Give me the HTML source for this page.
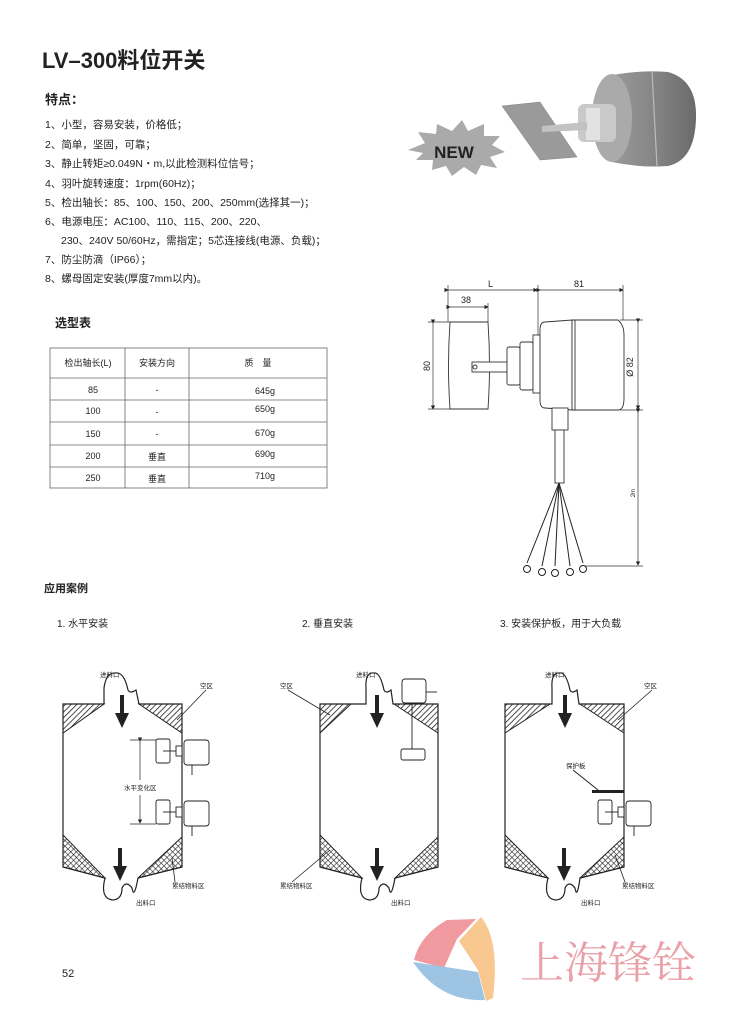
<!DOCTYPE html>
<html><head><meta charset="utf-8"><style>
html,body{margin:0;padding:0;background:#fff;}
svg{display:block;}
text{font-family:"Liberation Sans","Noto Sans CJK SC",sans-serif;fill:#222;}
</style></head><body>
<svg width="734" height="1024" viewBox="0 0 734 1024" xmlns="http://www.w3.org/2000/svg">
<defs>
<pattern id="hatch" width="4" height="4" patternUnits="userSpaceOnUse" patternTransform="rotate(45)">
<rect width="4" height="4" fill="#fff"/><line x1="0" y1="0" x2="0" y2="4" stroke="#222" stroke-width="1.6"/></pattern>
<pattern id="cross" width="4" height="4" patternUnits="userSpaceOnUse" patternTransform="rotate(45)">
<rect width="4" height="4" fill="#fff"/><line x1="0" y1="0" x2="0" y2="4" stroke="#222" stroke-width="1.2"/><line x1="0" y1="0" x2="4" y2="0" stroke="#222" stroke-width="1.2"/></pattern>
<linearGradient id="gcyl" x1="0" x2="1"><stop offset="0" stop-color="#9a9a9a"/><stop offset="0.5" stop-color="#858585"/><stop offset="1" stop-color="#6a6a6a"/></linearGradient>
<marker id="ar" markerWidth="6" markerHeight="6" refX="5" refY="3" orient="auto"><path d="M0,0 L6,3 L0,6 z" fill="#222"/></marker>
</defs>

<!-- Title -->
<text x="42" y="68" font-size="22" font-weight="bold" fill="#111">LV–300料位开关</text>
<text x="45" y="104" font-size="13" font-weight="bold">特点：</text>
<g font-size="10.5" fill="#333">
<text x="45" y="128">1、小型，容易安装，价格低；</text>
<text x="45" y="148">2、简单，坚固，可靠；</text>
<text x="45" y="167">3、静止转矩≥0.049N・m,以此检测料位信号；</text>
<text x="45" y="187">4、羽叶旋转速度：1rpm(60Hz)；</text>
<text x="45" y="206">5、检出轴长：85、100、150、200、250mm(选择其一)；</text>
<text x="45" y="225">6、电源电压：AC100、110、115、200、220、</text>
<text x="61" y="244">230、240V  50/60Hz，需指定；5芯连接线(电源、负载)；</text>
<text x="45" y="263">7、防尘防滴（IP66）；</text>
<text x="45" y="282">8、螺母固定安装(厚度7mm以内)。</text>
</g>

<!-- Table -->
<text x="55" y="327" font-size="12" font-weight="bold">选型表</text>
<g stroke="#666" stroke-width="0.8" fill="none">
<rect x="50" y="348" width="277" height="140"/>
<line x1="50" y1="378" x2="327" y2="378"/><line x1="50" y1="400" x2="327" y2="400"/>
<line x1="50" y1="422" x2="327" y2="422"/><line x1="50" y1="445" x2="327" y2="445"/>
<line x1="50" y1="467" x2="327" y2="467"/>
<line x1="125" y1="348" x2="125" y2="488"/><line x1="189" y1="348" x2="189" y2="488"/>
</g>
<g font-size="9" fill="#333" text-anchor="middle">
<text x="88" y="366">检出轴长(L)</text><text x="157" y="366">安装方向</text><text x="258" y="366">质　量</text>
<text x="93" y="393">85</text><text x="157" y="393">-</text><text x="265" y="394">645g</text>
<text x="93" y="414">100</text><text x="157" y="415">-</text><text x="265" y="412">650g</text>
<text x="93" y="437">150</text><text x="157" y="437">-</text><text x="265" y="436">670g</text>
<text x="93" y="459">200</text><text x="157" y="460">垂直</text><text x="265" y="457">690g</text>
<text x="93" y="481">250</text><text x="157" y="482">垂直</text><text x="265" y="479">710g</text>
</g>

<!-- NEW starburst -->
<polygon points="408,150 425,143 418,132 436,134 437,124 452,131 462,120 468,131 484,124 484,136 500,136 492,145 505,152 490,157 497,168 481,165 476,175 464,167 452,176 446,166 432,170 433,160 416,160 423,153" fill="#aaa"/>
<text x="454" y="158" font-size="17" font-weight="bold" fill="#fff" text-anchor="middle">NEW</text>

<!-- Product photo -->
<path d="M612,75 Q640,70 668,72 Q697,80 696,118 Q695,160 668,166 Q640,168 612,162 Z" fill="url(#gcyl)"/>
<ellipse cx="612" cy="118" rx="20" ry="44" fill="#aaa"/>
<line x1="652" y1="72" x2="657" y2="166" stroke="#bbb" stroke-width="1.2"/>
<rect x="578" y="104" width="38" height="38" rx="6" fill="#c9c9c9"/>
<rect x="586" y="108" width="14" height="32" fill="#e2e2e2"/>
<polygon points="502,106 540,102 577,157 540,160" fill="#9a9a9a" stroke="#808080" stroke-width="0.5"/>
<polygon points="542,126 587,122 587,130 542,132" fill="#c2c2c2"/>

<!-- Dimension drawing -->
<g stroke="#333" stroke-width="0.7" fill="none">
<line x1="448" y1="290" x2="537" y2="290" marker-end="url(#ar)" marker-start="url(#ar)"/>
<line x1="540" y1="290" x2="623" y2="290" marker-end="url(#ar)" marker-start="url(#ar)"/>
<line x1="450" y1="307" x2="488" y2="307" marker-end="url(#ar)" marker-start="url(#ar)"/>
<line x1="448" y1="285" x2="448" y2="322"/><line x1="538" y1="285" x2="538" y2="335"/>
<line x1="488" y1="303" x2="488" y2="322"/><line x1="623" y1="285" x2="623" y2="320"/>
<line x1="433" y1="323" x2="433" y2="409" marker-end="url(#ar)" marker-start="url(#ar)"/>
<line x1="428" y1="322" x2="452" y2="322"/><line x1="428" y1="409" x2="452" y2="409"/>
<line x1="638" y1="322" x2="638" y2="409" marker-end="url(#ar)" marker-start="url(#ar)"/>
<line x1="620" y1="320" x2="643" y2="320"/><line x1="620" y1="410" x2="643" y2="410"/>
<line x1="638" y1="412" x2="638" y2="565" marker-end="url(#ar)" marker-start="url(#ar)"/>
<line x1="585" y1="566" x2="643" y2="566"/>
</g>
<g stroke="#333" stroke-width="0.9" fill="#fff">
<path d="M450,322 L488,322 Q491,366 488,409 L450,409 Q447,366 450,322 Z"/>
<rect x="472" y="362" width="35" height="10"/><circle cx="475" cy="367" r="2"/>
<rect x="507" y="347" width="13" height="38" rx="2"/>
<rect x="520" y="342" width="13" height="48" rx="2"/>
<rect x="533" y="335" width="7" height="58"/>
<path d="M545,322 L572,320 L572,410 L545,408 Q540,408 540,400 L540,330 Q540,322 545,322 Z"/>
<path d="M572,320 L618,320 Q624,325 624,335 L624,398 Q624,410 618,410 L572,410 Z"/>
<line x1="575" y1="320" x2="575" y2="410"/>
<rect x="552" y="408" width="16" height="22"/>
<rect x="555" y="430" width="9" height="53"/>
</g>
<g stroke="#222" stroke-width="1" fill="none">
<line x1="559" y1="483" x2="527" y2="563"/><line x1="559" y1="483" x2="542" y2="566"/>
<line x1="559" y1="483" x2="555" y2="566"/><line x1="559" y1="483" x2="570" y2="566"/>
<line x1="559" y1="483" x2="583" y2="563"/>
<circle cx="527" cy="569" r="3.5"/><circle cx="542" cy="572" r="3.5"/><circle cx="555" cy="573" r="3.5"/><circle cx="570" cy="572" r="3.5"/><circle cx="583" cy="569" r="3.5"/>
</g>
<g font-size="9" fill="#333">
<text x="488" y="287">L</text><text x="574" y="287">81</text><text x="461" y="303">38</text>
<text transform="translate(430,366) rotate(-90)" text-anchor="middle">80</text>
<text transform="translate(633,367) rotate(-90)" text-anchor="middle">Ø 82</text>
<text transform="translate(635,493) rotate(-90)" text-anchor="middle" font-size="6">2m</text>
</g>

<!-- Application -->
<text x="44" y="592" font-size="11" font-weight="bold">应用案例</text>
<g font-size="10" fill="#333">
<text x="57" y="627">1. 水平安装</text><text x="302" y="627">2. 垂直安装</text><text x="500" y="627">3. 安装保护板，用于大负载</text>
</g>

<g>
<g>
<polygon points="63,704 104,704 63,733" fill="url(#hatch)" stroke="#222"/>
<polygon points="139,704 182,704 182,733" fill="url(#hatch)" stroke="#222"/>
<polygon points="63,835 63,867 105,878" fill="url(#cross)" stroke="#222"/>
<polygon points="182,837 182,867 138,878" fill="url(#cross)" stroke="#222"/>
<path d="M104,704 L63,704 L63,867 L105,878 Q100,898 112,900 Q122,900 122,888 Q126,880 132,888 Q134,900 138,878 L182,867 L182,704 L139,704 L136,690 Q130,694 128,690 Q124,672 116,673 Q106,672 104,688 Z" fill="none" stroke="#222" stroke-width="1.2"/>
</g>
<g>
<polygon points="320,704 351,704 320,733" fill="url(#hatch)" stroke="#222"/>
<polygon points="394,704 438,704 438,733" fill="url(#hatch)" stroke="#222"/>
<polygon points="320,835 320,867 362,878" fill="url(#cross)" stroke="#222"/>
<polygon points="438,837 438,867 395,878" fill="url(#cross)" stroke="#222"/>
<path d="M366,704 L320,704 L320,867 L362,878 Q357,898 369,900 Q379,900 379,888 Q383,880 389,888 Q391,900 395,878 L438,867 L438,704 L393,704 L391,690 Q386,694 384,690 Q380,672 374,673 Q365,672 366,688 Z" fill="none" stroke="#222" stroke-width="1.2"/>
</g>
<g>
<polygon points="505,704 550,704 505,733" fill="url(#hatch)" stroke="#222"/>
<polygon points="580,704 624,704 624,733" fill="url(#hatch)" stroke="#222"/>
<polygon points="505,835 505,867 548,878" fill="url(#cross)" stroke="#222"/>
<polygon points="624,837 624,867 580,878" fill="url(#cross)" stroke="#222"/>
<path d="M552,704 L505,704 L505,867 L548,878 Q543,898 555,900 Q565,900 565,888 Q569,880 575,888 Q577,900 580,878 L624,867 L624,704 L579,704 L577,690 Q572,694 570,690 Q566,672 560,673 Q551,672 552,688 Z" fill="none" stroke="#222" stroke-width="1.2"/>
</g>
</g>

<g fill="#222">
<rect x="120" y="695" width="4" height="20"/><polygon points="115,713 129,713 122,728"/>
<rect x="118" y="848" width="4" height="20"/><polygon points="113,866 127,866 120,881"/>
<rect x="375" y="695" width="4" height="20"/><polygon points="370,713 384,713 377,728"/>
<rect x="375" y="848" width="4" height="20"/><polygon points="370,866 384,866 377,881"/>
<rect x="563" y="695" width="4" height="20"/><polygon points="558,713 572,713 565,728"/>
<rect x="562" y="848" width="4" height="20"/><polygon points="557,866 571,866 564,881"/>
</g>

<g stroke="#222" stroke-width="0.9" fill="#fff">
<g>
<rect x="156" y="739" width="14" height="24" rx="2"/><line x1="163" y1="751" x2="176" y2="751"/>
<rect x="176" y="746" width="6" height="10"/>
<rect x="184" y="740" width="25" height="25" rx="3"/>
<line x1="192" y1="765" x2="192" y2="775"/>
</g>
<g transform="translate(0,61)"><rect x="156" y="739" width="14" height="24" rx="2"/><line x1="163" y1="751" x2="176" y2="751"/><rect x="176" y="746" width="6" height="10"/><rect x="184" y="740" width="25" height="25" rx="3"/><line x1="192" y1="765" x2="192" y2="775"/></g>
<g transform="translate(442,61)"><rect x="156" y="739" width="14" height="24" rx="2"/><line x1="163" y1="751" x2="176" y2="751"/><rect x="176" y="746" width="6" height="10"/><rect x="184" y="740" width="25" height="25" rx="3"/><line x1="192" y1="765" x2="192" y2="775"/></g>
<rect x="402" y="679" width="24" height="24" rx="3"/><line x1="426" y1="692" x2="437" y2="692"/>
<line x1="412" y1="703" x2="412" y2="749"/><rect x="401" y="749" width="24" height="11" rx="2"/>
</g>
<rect x="592" y="790" width="32" height="3" fill="#222"/>
<line x1="573" y1="770" x2="598" y2="790" stroke="#222" stroke-width="1"/>

<g stroke="#222" stroke-width="0.7">
<line x1="130" y1="740" x2="156" y2="740"/><line x1="130" y1="824" x2="156" y2="824"/>
<line x1="140" y1="741" x2="140" y2="780" marker-start="url(#ar)"/>
<line x1="140" y1="795" x2="140" y2="823" marker-end="url(#ar)"/>
</g>

<g stroke="#222" stroke-width="0.8">
<line x1="206" y1="690" x2="177" y2="720"/>
<line x1="288" y1="690" x2="330" y2="715"/>
<line x1="652" y1="690" x2="618" y2="720"/>
<line x1="175" y1="882" x2="172" y2="858"/>
<line x1="292" y1="882" x2="330" y2="850"/>
<line x1="625" y1="882" x2="615" y2="855"/>
</g>

<g font-size="6.5" fill="#333">
<text x="100" y="677">进料口</text><text x="356" y="677">进料口</text><text x="545" y="677">进料口</text>
<text x="200" y="688">空区</text><text x="280" y="688">空区</text><text x="644" y="688">空区</text>
<text x="124" y="790">水平变化区</text>
<text x="566" y="768">保护板</text>
<text x="172" y="888">累结物料区</text><text x="280" y="888">累结物料区</text><text x="622" y="888">累结物料区</text>
<text x="136" y="905">出料口</text><text x="391" y="905" fill="#777">出料口</text><text x="581" y="905" fill="#888">出料口</text>
</g>

<text x="62" y="977" font-size="11" fill="#222">52</text>

<path d="M414,960 Q420,935 447,920 L476,919 L457,939 L444,968 Z" fill="#f09aa0"/>
<path d="M481,917 Q500,940 493,998 L486,1001 L478,970 L459,941 Z" fill="#f8c890"/>
<path d="M413,962 L478,972 L485,1000 Q440,1002 413,962 Z" fill="#9ec4e4"/>
<text x="520" y="978" font-size="44" fill="#e9a0a8" style="font-family:'Noto Serif CJK SC','Noto Sans CJK SC',serif;fill:#e9a0a8">上海锋铨</text>
</svg>
</body></html>
